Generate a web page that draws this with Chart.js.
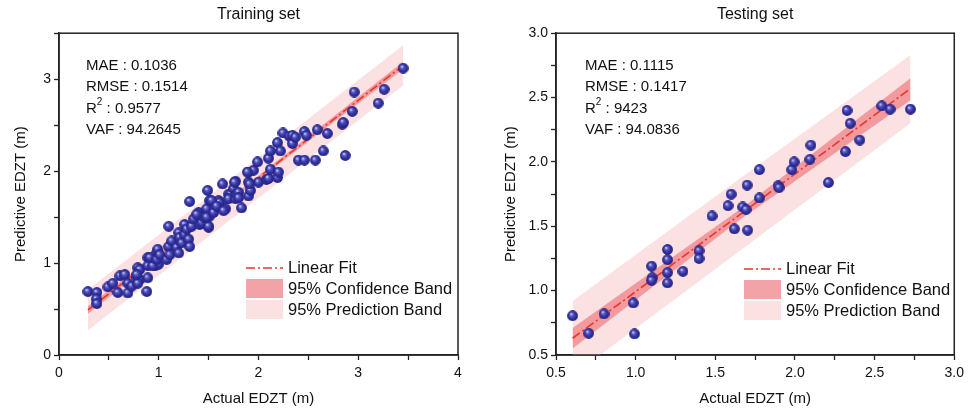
<!DOCTYPE html>
<html>
<head>
<meta charset="utf-8">
<script src="https://cdn.jsdelivr.net/npm/chart.js@4"></script>
<style>
body{margin:0;background:#fff;width:969px;height:413px;overflow:hidden;position:relative}
#wrapL{position:absolute;left:0;top:0;width:490px;height:413px}
#wrapR{position:absolute;left:490px;top:0;width:479px;height:413px}
</style>
</head>
<body>
<div id="wrapL"><canvas id="train"></canvas></div>
<div id="wrapR"><canvas id="test"></canvas></div>
<script>
// training set points (actual, predicted)
const trainX = [0.29,0.38,0.375,0.38,0.49,0.54,0.59,0.61,0.66,0.69,0.69,0.73,0.78,0.79,0.81,0.79,0.89,0.88,0.89,0.96,0.995,0.98,0.81,0.78,0.89,0.94,
  0.91,0.98,0.99,1.01,1.08,1.10,1.11,1.10,1.13,1.18,1.20,1.20,1.21,1.23,1.26,1.26,1.28,1.30,1.31,1.31,1.33,1.35,1.40,1.41,1.43,1.45,1.48,1.49,1.50,1.50,1.51,1.51,1.48,1.56,1.60,1.61,1.64,1.67,1.70,1.72,1.70,1.75,1.77,1.77,1.78,1.80,1.80,1.83,1.90,1.90,1.92,1.90,1.95,1.99,2.00,2.08,2.10,2.10,2.12,2.12,2.19,2.20,2.19,2.22,2.245,2.31,2.34,2.34,2.37,2.40,2.46,2.46,2.48,2.57,2.59,2.65,2.69,2.84,2.85,2.87,2.94,2.96,3.20,3.26,3.45,
  1.38,1.53,1.55,1.58,1.65,1.76,1.89,1.91];
const trainY = [0.69,0.68,0.61,0.56,0.74,0.78,0.68,0.86,0.875,0.675,0.78,0.75,0.84,0.95,0.82,0.78,0.84,0.69,1.06,0.97,0.985,1.11,0.93,0.875,0.97,0.97,
  1.06,1.04,1.15,1.09,1.04,1.18,1.09,1.40,1.24,1.17,1.11,1.33,1.28,1.22,1.42,1.31,1.37,1.26,1.18,1.67,1.40,1.48,1.55,1.42,1.44,1.50,1.59,1.79,1.39,1.40,1.51,1.68,1.50,1.59,1.68,1.66,1.86,1.59,1.75,1.75,1.70,1.81,1.89,1.70,1.75,1.77,1.71,1.60,1.88,1.73,1.79,1.99,2.01,2.10,1.88,1.91,1.92,2.14,2.22,2.02,1.93,1.99,2.31,2.22,2.415,2.38,2.39,2.30,2.37,2.12,2.12,2.43,2.39,2.12,2.45,2.22,2.41,2.51,2.53,2.17,2.65,2.86,2.74,2.89,3.12,
  1.53,1.68,1.55,1.62,1.57,1.88,1.99,1.86];
const trainFitX = [0.29, 3.45];
const trainFitY = [0.49, 3.15];
const trainBandX = [0.29, 1.87, 3.45];
const trainConfLo = [0.45, 1.80, 3.11];
const trainConfHi = [0.53, 1.84, 3.19];
const trainPredLo = [0.27, 1.60, 2.93];
const trainPredHi = [0.71, 2.04, 3.37];

// testing set points
const testX = [0.604,0.705,0.802,0.985,0.993,1.10,1.104,1.10,1.20,1.20,1.20,1.20,1.297,1.398,1.398,1.48,1.58,1.60,1.62,1.672,1.693,1.70,1.703,1.777,1.777,1.894,1.90,1.98,1.995,2.094,2.10,2.21,2.317,2.327,2.347,2.407,2.545,2.597,2.725];
const testY = [0.805,0.669,0.82,0.904,0.664,1.19,1.10,1.08,1.32,1.24,1.14,1.06,1.15,1.31,1.25,1.58,1.66,1.75,1.48,1.65,1.63,1.82,1.47,1.94,1.72,1.815,1.80,1.94,2.00,2.02,2.13,1.84,2.08,2.40,2.30,2.17,2.435,2.41,2.41];
const testFitX = [0.604, 2.725];
const testFitY = [0.63, 2.57];
const testBandX = [0.604, 1.665, 2.725];
const testConfLo = [0.55, 1.56, 2.48];
const testConfHi = [0.71, 1.64, 2.65];
const testPredLo = [0.34, 1.32, 2.30];
const testPredHi = [0.92, 1.88, 2.83];

// tick labels
const trainXTicks = [0, 1, 2, 3, 4];
const trainYTicks = [0, 1, 2, 3];
const testTicks = [0.5, 1.0, 1.5, 2.0, 2.5, 3.0];

const statNames = ['MAE', 'RMSE', 'R', 'VAF'];
const trainStatVals = ['0.1036', '0.1514', '0.9577', '94.2645'];
const testStatVals = ['0.1115', '0.1417', '9423', '94.0836'];
const legendLabels = ['Linear Fit', '95% Confidence Band', '95% Prediction Band'];

const narrow = '"Liberation Sans Narrow", "Liberation Sans", Arial, sans-serif';
const sans = '"Liberation Sans", Arial, sans-serif';

// shaded ball marker
const ball = document.createElement('canvas');
ball.width = 11; ball.height = 11;
(function () {
  const g = ball.getContext('2d');
  const grad = g.createRadialGradient(4, 3.8, 0.3, 5.5, 5.5, 5.5);
  grad.addColorStop(0, '#d6d6f5');
  grad.addColorStop(0.25, '#6060c8');
  grad.addColorStop(0.6, '#3232a2');
  grad.addColorStop(1, '#22227c');
  g.fillStyle = grad;
  g.beginPath(); g.arc(5.5, 5.5, 5.4, 0, Math.PI * 2); g.fill();
})();

const pts = (xs, ys) => xs.map((x, i) => ({x: x, y: ys[i]}));

function buildDatasets(px, py, fx, fy, bx, cLo, cHi, pLo, pHi) {
  const none = 'rgba(0,0,0,0)';
  return [
    {type: 'scatter', data: pts(px, py), pointStyle: ball, pointRadius: 5.5, order: 0},
    {type: 'line', data: pts(fx, fy), borderColor: '#e8362b', borderWidth: 1.6, borderDash: [9, 3, 2, 3], pointRadius: 0, fill: false, order: 1},
    {type: 'line', data: pts(bx, cLo), borderColor: none, borderWidth: 0, pointRadius: 0, fill: false, order: 2},
    {type: 'line', data: pts(bx, cHi), borderColor: none, borderWidth: 0, pointRadius: 0, fill: '-1', backgroundColor: '#f29a9e', order: 2},
    {type: 'line', data: pts(bx, pLo), borderColor: none, borderWidth: 0, pointRadius: 0, fill: false, order: 3},
    {type: 'line', data: pts(bx, pHi), borderColor: none, borderWidth: 0, pointRadius: 0, fill: '-1', backgroundColor: '#fce1e3', order: 3}
  ];
}

function axis(min, max, step, majors, dec, text, isY, size) {
  return {
    type: 'linear', min: min, max: max,
    ticks: {
      stepSize: step, autoSkip: false, maxRotation: 0, padding: isY ? 3 : 5, color: '#111',
      font: {family: narrow, size: 14},
      callback: v => majors.some(m => Math.abs(m - v) < 1e-6) ? v.toFixed(dec) : ''
    },
    grid: {drawOnChartArea: false, drawTicks: true, tickLength: 5, color: '#222', tickWidth: 1.3},
    border: {display: true, color: '#222', width: 1.5},
    title: {display: true, text: text, color: '#111', font: {family: narrow, size: 15},
      padding: isY ? {top: 12, bottom: 0} : {top: 0, bottom: 5}},
    afterFit: s => { if (isY) s.width = size; else s.height = size; }
  };
}

const extras = {
  id: 'extras',
  afterDatasetsDraw(chart, args, o) {
    const ctx = chart.ctx, a = chart.chartArea;
    ctx.save();
    ctx.strokeStyle = '#222'; ctx.lineWidth = 1.5;
    ctx.strokeRect(a.left, a.top, a.right - a.left, a.bottom - a.top);

    // stats text
    const big = '15px ' + sans;
    ctx.fillStyle = '#111'; ctx.textBaseline = 'middle'; ctx.textAlign = 'left';
    statNames.forEach((n, i) => {
      const y = o.statY + i * 21.3;
      let x = o.statX;
      ctx.font = big;
      if (n === 'R') {
        ctx.fillText('R', x, y);
        x += ctx.measureText('R').width;
        ctx.font = '10px ' + sans;
        ctx.fillText('2', x, y - 6);
        x += ctx.measureText('2').width;
        ctx.font = big;
        ctx.fillText(' : ' + o.vals[i], x, y);
      } else {
        ctx.fillText(n + ' : ' + o.vals[i], x, y);
      }
    });

    // legend
    const lx = o.legX, ly = o.legY;
    ctx.font = '16.5px ' + sans;
    ctx.strokeStyle = '#e8362b'; ctx.lineWidth = 1.6; ctx.setLineDash([9, 3, 2, 3]);
    ctx.beginPath(); ctx.moveTo(lx, ly); ctx.lineTo(lx + 37, ly); ctx.stroke();
    ctx.setLineDash([]);
    ctx.fillStyle = '#f2a3a7'; ctx.fillRect(lx, ly + 11, 37, 19);
    ctx.fillStyle = '#fce1e3'; ctx.fillRect(lx, ly + 32, 37, 19);
    ctx.fillStyle = '#111';
    ctx.fillText(legendLabels[0], lx + 42, ly);
    ctx.fillText(legendLabels[1], lx + 42, ly + 21);
    ctx.fillText(legendLabels[2], lx + 42, ly + 42);
    ctx.restore();
  }
};

function makeChart(id, cfg) {
  return new Chart(document.getElementById(id), {
    type: 'scatter',
    data: {datasets: cfg.datasets},
    options: {
      responsive: true, maintainAspectRatio: false, animation: false, events: [],
      layout: {padding: cfg.padding},
      scales: {x: cfg.x, y: cfg.y},
      plugins: {
        legend: {display: false}, tooltip: {enabled: false},
        title: {display: true, text: cfg.title, fullSize: false, color: '#111',
          font: {family: sans, size: 16, weight: 'normal'}, padding: {top: 5, bottom: 9}},
        extras: cfg.extras
      }
    },
    plugins: [extras]
  });
}

makeChart('train', {
  title: 'Training set',
  datasets: buildDatasets(trainX, trainY, trainFitX, trainFitY, trainBandX, trainConfLo, trainConfHi, trainPredLo, trainPredHi),
  padding: {left: 0, right: 32, top: 0, bottom: 0},
  x: axis(0, 4, 0.5, trainXTicks, 0, 'Actual EDZT (m)', false, 58),
  y: axis(0, 3.5, 0.5, trainYTicks, 0, 'Predictive EDZT (m)', true, 59),
  extras: {statX: 86, statY: 66, vals: trainStatVals, legX: 246, legY: 268}
});

makeChart('test', {
  title: 'Testing set',
  datasets: buildDatasets(testX, testY, testFitX, testFitY, testBandX, testConfLo, testConfHi, testPredLo, testPredHi),
  padding: {left: 0, right: 13, top: 0, bottom: 0},
  x: axis(0.5, 3.0, 0.25, testTicks, 1, 'Actual EDZT (m)', false, 58),
  y: axis(0.5, 3.0, 0.25, testTicks, 1, 'Predictive EDZT (m)', true, 66),
  extras: {statX: 95, statY: 66, vals: testStatVals, legX: 254, legY: 269}
});
</script>
</body>
</html>
